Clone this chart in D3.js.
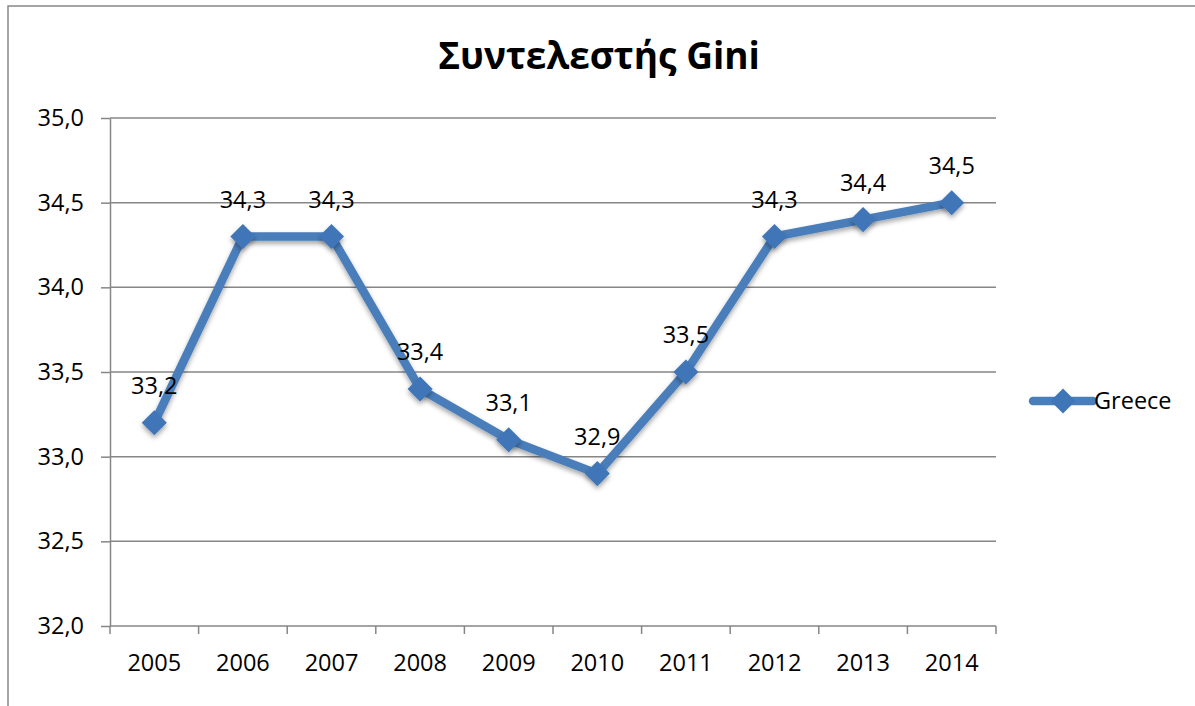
<!DOCTYPE html>
<html>
<head>
    <meta charset='utf-8'/>
    <title>Gini</title>
    <style>
        body { margin: 0; background: #fff; }
        text { font-family: "Open Sans", "Noto Sans", sans-serif; fill: #000; }
        .axis path, .axis line { stroke: #868686; stroke-width: 1.5; }
        .axis text { font-size: 23.5px; }
        .grid line { stroke: #868686; stroke-width: 1.5; }
    </style>
</head>
<body>
<div id="chart"></div>

<script src="https://d3js.org/d3.v7.min.js"></script>
<script type="text/javascript">

    // data
    var years = ["2005", "2006", "2007", "2008", "2009", "2010", "2011", "2012", "2013", "2014"];
    var gini = [33.2, 34.3, 34.3, 33.4, 33.1, 32.9, 33.5, 34.3, 34.4, 34.5];
    var yTicks = [32.0, 32.5, 33.0, 33.5, 34.0, 34.5, 35.0];
    var seriesName = "Greece";
    var title = "Συντελεστής Gini";

    // dims
    var svg_dx = 1195,
        svg_dy = 706,
        margin = {top: 118, left: 110, right: 199, bottom: 80};

    var x = d3.scaleBand().domain(years).range([margin.left, svg_dx - margin.right]).padding(0),
        y = d3.scaleLinear().domain([32, 35]).range([svg_dy - margin.bottom, margin.top]);

    var fmt = d => d.toFixed(1).replace(".", ",");

    var svg = d3.select("#chart")
        .append("svg")
        .attr("width", svg_dx)
        .attr("height", svg_dy);

    var defs = svg.append("defs");
    var shadow = defs.append("filter").attr("id", "shadow")
        .attr("x", "-50%").attr("y", "-50%").attr("width", "200%").attr("height", "200%");
    shadow.append("feDropShadow")
        .attr("dx", 0).attr("dy", 3).attr("stdDeviation", 2.5)
        .attr("flood-color", "#000").attr("flood-opacity", 0.35);

    // outer border (cropped at right / bottom)
    svg.append("rect")
        .attr("x", 8).attr("y", 6)
        .attr("width", 1300).attr("height", 800)
        .attr("fill", "none")
        .attr("stroke", "#888")
        .attr("stroke-width", 1.5);

    // title
    svg.append("text")
        .attr("x", 599)
        .attr("y", 69)
        .attr("text-anchor", "middle")
        .style("font-size", "37px")
        .style("font-weight", "bold")
        .text(title);

    // gridlines
    svg.append("g")
        .attr("class", "grid")
        .selectAll("line")
        .data(yTicks.slice(1))
        .enter()
        .append("line")
        .attr("x1", margin.left)
        .attr("x2", svg_dx - margin.right)
        .attr("y1", d => y(d))
        .attr("y2", d => y(d));

    // y axis
    var yAxis = svg.append("g")
        .attr("class", "axis")
        .attr("transform", "translate(" + margin.left + ",0)")
        .call(d3.axisLeft(y).tickValues(yTicks).tickFormat(fmt).tickSize(9).tickSizeOuter(0).tickPadding(17));

    // x axis
    var xAxis = svg.append("g")
        .attr("class", "axis")
        .attr("transform", "translate(0," + y(32) + ")")
        .call(d3.axisBottom(x).tickSize(0).tickSizeOuter(0).tickPadding(28));
    xAxis.select(".domain").remove();
    xAxis.append("line")
        .attr("x1", margin.left).attr("x2", svg_dx - margin.right)
        .attr("y1", 0).attr("y2", 0);

    // x ticks at category boundaries
    var bounds = years.map(d => x(d)).concat([x(years[years.length - 1]) + x.bandwidth()]);
    xAxis.selectAll(".bound")
        .data(bounds)
        .enter()
        .append("line")
        .attr("class", "bound")
        .attr("x1", d => d).attr("x2", d => d)
        .attr("y1", 0).attr("y2", 8);

    var cx = (d, i) => x(years[i]) + x.bandwidth() / 2;

    // series line
    var line = d3.line()
        .x((d, i) => cx(d, i))
        .y(d => y(d));

    svg.append("path")
        .datum(gini)
        .attr("d", line)
        .attr("fill", "none")
        .attr("stroke", "#4A7EBB")
        .attr("stroke-width", 8.5)
        .attr("stroke-linejoin", "round")
        .attr("filter", "url(#shadow)");

    // markers
    var diamond = d3.symbol().type(d3.symbolDiamond2).size(400);

    svg.append("g")
        .selectAll("path")
        .data(gini)
        .enter()
        .append("path")
        .attr("d", diamond)
        .attr("transform", (d, i) => "translate(" + cx(d, i) + "," + y(d) + ")")
        .attr("fill", "#3F76B8")
        .attr("filter", "url(#shadow)");

    // data labels
    svg.append("g")
        .selectAll("text")
        .data(gini)
        .enter()
        .append("text")
        .attr("x", (d, i) => cx(d, i))
        .attr("y", d => y(d) - 37)
        .attr("dy", "0.35em")
        .attr("text-anchor", "middle")
        .style("font-size", "23.5px")
        .text(fmt);

    // legend
    var legend = svg.append("g")
        .attr("transform", "translate(1033,401)");
    legend.append("line")
        .attr("x1", 0).attr("x2", 60)
        .attr("y1", 0).attr("y2", 0)
        .attr("stroke", "#4A7EBB")
        .attr("stroke-width", 8.5)
        .attr("stroke-linecap", "round");
    legend.append("path")
        .attr("d", diamond)
        .attr("transform", "translate(30,0)")
        .attr("fill", "#3F76B8");
    legend.append("text")
        .attr("x", 61)
        .attr("dy", "0.35em")
        .style("font-size", "23.5px")
        .text(seriesName);

</script>

</body>
</html>
